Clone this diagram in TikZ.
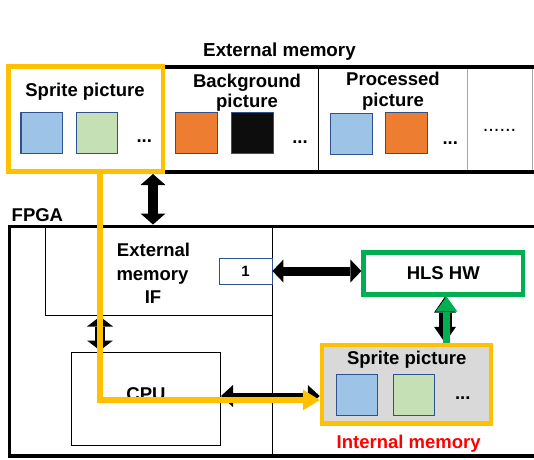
\documentclass[tikz,border=0pt]{standalone}
\usepackage{fontspec}
\setmainfont{Liberation Sans}
\usetikzlibrary{arrows.meta}
\definecolor{yel}{HTML}{FFC000}
\definecolor{grn}{HTML}{00B050}
\definecolor{sqblue}{HTML}{9DC3E6}
\definecolor{sqgreen}{HTML}{C5E0B4}
\definecolor{sqorange}{HTML}{ED7D31}
\definecolor{sqblack}{HTML}{0D0D0D}
\definecolor{navy}{HTML}{2F528F}
\definecolor{bggray}{HTML}{D9D9D9}
\definecolor{sepgray}{HTML}{A6A6A6}
\begin{document}
\begin{tikzpicture}[x=1pt,y=-1pt,
  lbl/.style={font=\fontsize{18.5}{22}\selectfont\bfseries, inner sep=0, anchor=base},
  sq/.style={draw=navy, line width=1.3pt, minimum size=41.5pt, inner sep=0},
  thinbox/.style={draw=black, line width=1pt, inner sep=0},
  dblarrow/.style args={#1/#2/#3}{draw=black, line width=#1,
    {Triangle[width=#2,length=#3,line width=0pt]}-{Triangle[width=#2,length=#3,line width=0pt]}},
  yelarrow/.style={draw=yel, line width=6.5pt, -{Triangle[width=21pt,length=17pt,line width=0pt]}},
  grnarrow/.style={draw=grn, line width=7pt, -{Triangle[width=22pt,length=15pt,line width=0pt]}}
]
\useasboundingbox (0,0) rectangle (534,459);

% ---------- External memory ----------
\node[lbl, font=\fontsize{18.8}{22}\selectfont\bfseries] (emtitle) at (279.5,56) {External memory};
\node[minimum width=369pt, minimum height=105pt, inner sep=0, outer sep=0] (extmem) at (347.5,119.5) {};
\draw[line width=4pt] (extmem.north west) -- ([xshift=1.5pt]extmem.north east);
\draw[line width=4pt] (extmem.south west) -- ([xshift=1.5pt]extmem.south east);
\draw[sepgray, line width=1pt] ([yshift=-2pt]extmem.north east) -- ([yshift=2pt]extmem.south east);
\draw[line width=0.9pt] (318.3,69) -- (318.3,170);
\draw[sepgray, line width=1.5pt] (467.7,69) -- (467.7,170);

\node[lbl] (bg1) at (247,87.3) {Background};
\node[lbl] (bg2) at (247,107.5) {picture};
\node[lbl] (pr1) at (393,85.5) {Processed};
\node[lbl] (pr2) at (393,106) {picture};

\node[sq, fill=sqorange] (bgsq1) at (196.5,133) {};
\node[sq, fill=sqblack] (bgsq2) at (252.5,133) {};
\node[lbl] (bgdots) at (300,143.3) {...};
\node[sq, fill=sqblue] (prsq1) at (351.5,134) {};
\node[sq, fill=sqorange] (prsq2) at (406.5,133) {};
\node[lbl] (prdots) at (450.3,144.5) {...};
\node[lbl, font=\fontsize{20}{22}\selectfont] (moredots) at (499.5,131.3) {......};

% sprite picture (external)
\node[draw=yel, line width=4.7pt, minimum width=154.7pt, minimum height=105pt, inner sep=0] (sprite) at (85.7,119.2) {};
\node[lbl] (sptitle) at (85,96.5) {Sprite picture};
\node[sq, fill=sqblue] (spsq1) at (41.7,133) {};
\node[sq, fill=sqgreen] (spsq2) at (97,133) {};
\node[lbl] (spdots) at (144.3,142) {...};

% ---------- FPGA ----------
\node[lbl, anchor=base west] (fpga) at (11.5,221.7) {FPGA};
\draw[line width=3.5pt] (540,226.7) -- (9.5,226.7) -- (9.5,456) -- (540,456);
\draw[line width=1pt] (272,226.7) -- (272,456);
\draw[line width=1pt] (45,226.7) -- (45,315) -- (272,315);
\node[lbl] (if1) at (153.5,256.7) {External};
\node[lbl] (if2) at (152.5,280.7) {memory};
\node[lbl] (if3) at (153,303.3) {IF};
\node[draw=navy, line width=0.8pt, minimum width=53pt, minimum height=26pt, inner sep=0,
      font=\fontsize{15}{17}\selectfont\bfseries] (one) at (245.5,271) {1};

\node[thinbox, minimum width=149pt, minimum height=93pt] (cpu) at (146,398.5) {};
\node[lbl] (cputxt) at (146,400.7) {CPU};

\node[draw=grn, line width=4.3pt, minimum width=159.5pt, minimum height=42pt, inner sep=0,
      font=\fontsize{18.5}{22}\selectfont\bfseries] (hls) at (443.25,273.5) {HLS HW};

\node[draw=yel, fill=bggray, line width=4.5pt, minimum width=169pt, minimum height=78.5pt, inner sep=0] (internal) at (406.5,384.25) {};
\node[lbl] (intitle) at (406.7,364) {Sprite picture};
\node[sq, fill=sqblue] (insq1) at (357,395) {};
\node[sq, fill=sqgreen] (insq2) at (414,395) {};
\node[lbl] (indots) at (462.8,399.3) {...};
\node[lbl, text=red] (inlabel) at (408.7,448.3) {Internal memory};

% ---------- connectors ----------
\coordinate (emA) at (153,174);
\coordinate (fpA) at (153,224.5);
\draw[dblarrow=10pt/25pt/11pt] (emA) -- (fpA);

\coordinate (ifA) at (100,316.5);
\coordinate (cpA) at (100,350.5);
\draw[dblarrow=10pt/26pt/10pt] (ifA) -- (cpA);

\draw[dblarrow=9pt/23pt/11pt] (one.east) -- (one.east -| hls.west);

\coordinate (ybk) at (0,396);
\draw[dblarrow=7pt/22pt/12pt] (cpu.east |- ybk) -- (internal.west |- ybk);

\coordinate (vx) at (445,0);
\coordinate (gx) at (446.5,0);
\draw[dblarrow=13pt/22pt/16pt] (vx |- hls.south) -- (vx |- internal.north);
\draw[grnarrow] (gx |- internal.north) -- (gx |- hls.south);

\coordinate (ybend) at (100,400);
\draw[yelarrow] ([yshift=2pt]ybend |- sprite.south) -- (ybend) -- (ybend -| internal.west);
\end{tikzpicture}
\end{document}
